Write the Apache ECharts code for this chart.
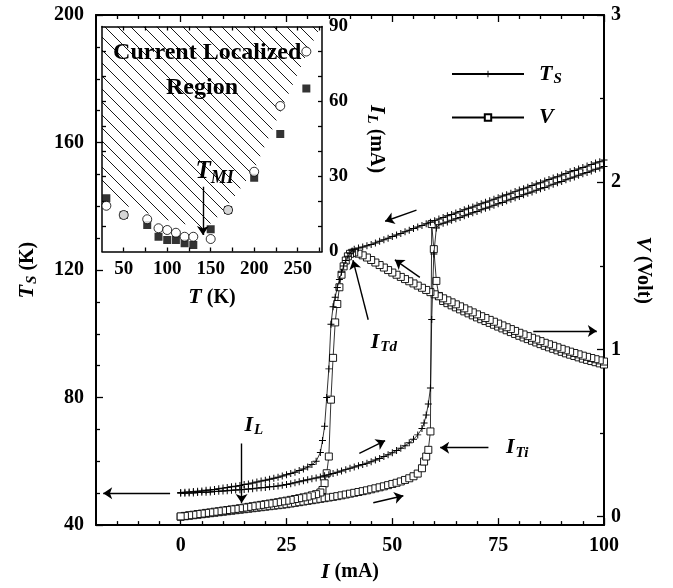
<!DOCTYPE html>
<html><head><meta charset="utf-8">
<script src="https://cdn.jsdelivr.net/npm/echarts@6/dist/echarts.min.js"></script>
<style>html,body{margin:0;padding:0;background:#fff}#c{width:673px;height:588px}</style>
</head><body><div id="c"></div>
<script>
// ---------- main plot data: current sweep up (I increasing) ----------
const iUp = [0,1,2,3,4,5,6,7,8,9,10,11,12,13,14,15,16,17,18,19,20,21,22,23,24,25,26,27,28,29,30,31,32,33,34,35,36,37,38,39,40,41,42,43,44,45,46,47,48,49,50,51,52,53,54,55,56,
  57,57.5,58,58.5,59,59.3,59.8,60.4,
  61,62,63,64,65,66,67,68,69,70,71,72,73,74,75,76,77,78,79,80,81,82,83,84,85,86,87,88,89,90,91,92,93,94,95,96,97,98,99,100];
const tsUp = [50.0,50.0,50.1,50.1,50.2,50.3,50.3,50.4,50.5,50.6,
  50.7,50.8,50.9,51.0,51.1,51.2,51.3,51.4,51.6,51.7,
  51.8,52.0,52.1,52.3,52.5,52.7,53.0,53.3,53.6,53.9,
  54.2,54.5,54.8,55.1,55.5,55.8,56.2,56.6,57.0,57.4,
  57.8,58.2,58.6,59.0,59.4,59.9,60.4,60.9,61.5,62.1,
  62.7,63.4,64.1,64.9,65.8,66.9,68.3,
  70.3,72.0,74.5,78.0,83.0,104.5,125.0,133.2,
  134.2,134.7,135.1,135.6,136.1,136.5,137.0,137.5,138.0,138.4,
  138.9,139.4,139.8,140.3,140.8,141.2,141.7,142.2,142.7,143.1,
  143.6,144.1,144.5,145.0,145.5,145.9,146.4,146.9,147.4,147.8,
  148.3,148.8,149.2,149.7,150.2,150.6,151.1,151.6,152.0,152.5];
const vUp = [0.000,0.003,0.006,0.009,0.012,0.015,0.018,0.021,0.024,0.027,
  0.030,0.033,0.036,0.039,0.042,0.045,0.048,0.051,0.054,0.057,
  0.060,0.063,0.066,0.069,0.072,0.075,0.079,0.083,0.087,0.091,
  0.095,0.099,0.103,0.107,0.111,0.115,0.119,0.123,0.128,0.133,
  0.138,0.143,0.148,0.153,0.158,0.164,0.170,0.176,0.182,0.189,
  0.196,0.203,0.211,0.220,0.230,0.242,0.258,
  0.290,0.330,0.360,0.400,0.510,1.750,1.600,1.410,
  1.320,1.290,1.277,1.264,1.252,1.240,1.228,1.216,1.204,1.192,
  1.181,1.170,1.159,1.148,1.137,1.126,1.115,1.104,1.093,1.082,
  1.072,1.062,1.052,1.042,1.032,1.022,1.013,1.004,0.995,0.986,
  0.977,0.969,0.961,0.953,0.945,0.938,0.931,0.924,0.917,0.910];

// ---------- main plot data: current sweep down (I decreasing) ----------
const iDown = [100,99,98,97,96,95,94,93,92,91,90,89,88,87,86,85,84,83,82,81,80,79,78,77,76,75,74,73,72,71,70,69,68,67,66,65,64,63,62,61,60,59,58,57,56,55,54,53,52,51,50,49,48,47,46,45,44,43,42,41,
  40.5,40,39.5,39,38.5,38,37.5,37,36.5,36,35.5,35,34.5,34,33.5,33,
  32,31,30,29,28,27,26,25,24,23,22,21,20,19,18,17,16,15,14,13,12,11,10,9,8,7,6,5,4,3,2,1,0];
const tsDown = [154.5,154.0,153.6,153.1,152.6,152.2,151.7,151.2,150.8,150.3,
  149.8,149.3,148.9,148.4,147.9,147.4,147.0,146.5,146.0,145.5,
  145.1,144.6,144.1,143.6,143.2,142.7,142.2,141.7,141.3,140.8,
  140.3,139.8,139.4,138.9,138.4,137.9,137.4,137.0,136.5,136.0,
  135.5,135.0,134.5,134.0,133.5,133.0,132.5,132.0,131.5,131.0,
  130.5,130.0,129.5,129.0,128.5,128.0,127.6,127.2,126.9,126.5,
  126.0,125.3,124.3,123.0,121.3,119.3,117.0,114.5,111.5,108.5,103.0,89.0,80.0,71.0,66.5,62.8,
  60.0,59.0,58.2,57.6,57.1,56.6,56.2,55.8,55.4,55.0,
  54.7,54.4,54.1,53.8,53.5,53.2,52.9,52.7,52.4,52.2,
  52.0,51.8,51.6,51.4,51.2,51.0,50.9,50.7,50.6,50.5,
  50.4,50.3,50.2];
const vDown = [0.928,0.935,0.942,0.949,0.956,0.963,0.971,0.979,0.987,0.995,
  1.004,1.013,1.022,1.031,1.040,1.050,1.060,1.070,1.080,1.090,
  1.100,1.111,1.122,1.133,1.144,1.155,1.166,1.177,1.188,1.199,
  1.210,1.222,1.234,1.246,1.258,1.270,1.282,1.294,1.306,1.318,
  1.330,1.343,1.356,1.369,1.382,1.395,1.408,1.421,1.434,1.447,
  1.460,1.475,1.490,1.505,1.520,1.535,1.550,1.563,1.573,1.580,
  1.578,1.572,1.557,1.532,1.497,1.447,1.372,1.272,1.162,0.950,0.700,0.360,0.260,0.200,0.160,0.145,
  0.135,0.128,0.121,0.116,0.111,0.106,0.101,0.096,0.092,0.087,
  0.083,0.079,0.075,0.071,0.067,0.063,0.059,0.055,0.051,0.047,
  0.044,0.040,0.037,0.033,0.030,0.026,0.023,0.019,0.016,0.012,
  0.009,0.005,0.002];

// ---------- inset data ----------
const tSquares = [30,50,77,90,100,110,120,130,150,170,200,230,260];
const ilSquares = [21.3,14.6,10.6,5.9,4.6,4.6,3.3,2.6,8.9,16.6,29.5,47.0,65.2];
const tCircles = [30,50,77,90,100,110,120,130,150,170,200,230,260];
const ilCircles = [18.3,14.6,12.9,9.3,8.6,7.5,5.9,5.9,5.0,16.6,31.9,58.2,80.0];
const tBoundary = [25,50,77,100,120,140,153,170,200,231,260,278];
const ilBoundary = [26.6,18.6,15.4,12.6,11.0,9.4,11.8,18.6,32.6,56.6,78.7,91.0];

// ---------- ticks ----------
const xMajor = [0,25,50,75,100];
const xMinor = [-15,-10,-5,5,10,15,20,30,35,40,45,55,60,65,70,80,85,90,95];
const tsMajor = [40,80,120,160,200];
const tsMinor = [50,60,70,90,100,110,130,140,150,170,180,190];
const vMajor = [0,1,2,3];
const vMinor = [0.5,1.5,2.5];
const insetXLabels = [50,100,150,200,250];
const insetXTicks = [50,75,100,125,150,175,200,225,250,275];
const insetYLabels = [0,30,60,90];
const insetYTicks = [10,20,30,40,50,60,70,80];

// ---------- annotations (data coordinates) ----------
const mainArrows = [
  [-2.5,50,-18.3,50],
  [14.4,65.6,14.4,46.9],
  [44.3,104.4,40.7,123.1],
  [55.7,138.8,48.3,135.3],
  [56.5,117.7,50.6,123.2],
  [83.3,100.9,98.3,100.9],
  [72.7,64.3,61.3,64.3],
  [42.2,62.5,48.3,66.5],
  [45.5,47.0,52.6,49.2]
];
const insetArrows = [[141,25.9,141,6.6]];

const FONT = 'Liberation Serif';
const zip = (a,b) => a.map((v,i) => [v,b[i]]);

const R = {
  i:{fontFamily:FONT,fontStyle:'italic',fontWeight:'bold',fontSize:22,color:'#000'},
  s:{fontFamily:FONT,fontStyle:'italic',fontWeight:'bold',fontSize:15,color:'#000',padding:[10,0,0,1]},
  n:{fontFamily:FONT,fontWeight:'bold',fontSize:20,color:'#000'},
  b:{fontFamily:FONT,fontWeight:'bold',fontSize:24,color:'#000'},
  I2:{fontFamily:FONT,fontStyle:'italic',fontWeight:'bold',fontSize:25,color:'#000'},
  s2:{fontFamily:FONT,fontStyle:'italic',fontWeight:'bold',fontSize:18,color:'#000',padding:[12,0,0,0]}
};

const hatch = document.createElement('canvas');
hatch.width = 13; hatch.height = 13;
const hc = hatch.getContext('2d');
hc.strokeStyle = '#000'; hc.lineWidth = 0.9;
hc.beginPath();
hc.moveTo(0,0); hc.lineTo(13,13);
hc.moveTo(-2,11); hc.lineTo(2,15);
hc.moveTo(11,-2); hc.lineTo(15,2);
hc.stroke();

const PLUS = 'path://M4.3,0H5.7V4.3H10V5.7H5.7V10H4.3V5.7H0V4.3H4.3Z';
const lbl = (size) => ({fontFamily:FONT,fontWeight:'bold',fontSize:size,color:'#000'});

function tickAxis(base, ticks, len, line, labels, lw) {
  return Object.assign({
    type:'value', splitLine:{show:false},
    axisLine:{show:!!line, onZero:false, lineStyle:{color:'#000',width:lw||2}},
    axisTick:{show:true, inside:true, length:len, customValues:ticks, lineStyle:{color:'#000',width:1.3}},
    axisLabel:labels ? labels : {show:false}
  }, base);
}

const arrowMark = (arr) => ({
  silent:true, animation:false,
  symbol:['none','arrow'], symbolSize:9,
  label:{show:false},
  lineStyle:{color:'#000',width:1.4,type:'solid'},
  emphasis:{disabled:true},
  data: arr.map(a => [{coord:[a[0],a[1]]},{coord:[a[2],a[3]]}])
});
const textMark = (items) => ({
  silent:true, animation:false, symbol:'circle', symbolSize:0,
  label:{show:true, position:'inside', color:'#000', rich:R},
  emphasis:{disabled:true},
  data: items.map(t => ({coord:[t[0],t[1]], label:{formatter:t[2]}}))
});

const option = {
  animation:false,
  backgroundColor:'#fff',
  grid:[
    {left:96, top:15, width:508, height:514},
    {left:102, top:26.5, width:220, height:225}
  ],
  legend:{
    left:446, top:58, orient:'vertical', itemGap:20, itemWidth:72, itemHeight:8,
    data:['TS','V'],
    formatter: n => n === 'TS' ? '{i|T}{s|S}' : '{i|V}',
    textStyle:{rich:{
      i:{fontFamily:FONT,fontStyle:'italic',fontWeight:'bold',fontSize:22,color:'#000',padding:[0,0,0,10],lineHeight:26},
      s:{fontFamily:FONT,fontStyle:'italic',fontWeight:'bold',fontSize:15,color:'#000',padding:[10,0,0,1]}
    }}
  },
  xAxis:[
    tickAxis({gridIndex:0, position:'bottom', min:-20, max:100,
      name:'{i|I}{n| (mA)}', nameLocation:'middle', nameGap:34, nameTextStyle:{rich:R}},
      xMajor, 7, true, Object.assign({show:true, customValues:xMajor, margin:11}, lbl(20))),
    tickAxis({gridIndex:0, position:'bottom', min:-20, max:100}, xMinor, 4, false),
    tickAxis({gridIndex:0, position:'top', min:-20, max:100}, xMajor, 7, true),
    tickAxis({gridIndex:0, position:'top', min:-20, max:100}, xMinor, 4, false),
    tickAxis({gridIndex:1, position:'bottom', min:25, max:278,
      name:'{i|T}{n| (K)}', nameLocation:'middle', nameGap:35, nameTextStyle:{rich:R}},
      insetXTicks, 4, true, Object.assign({show:true, customValues:insetXLabels, margin:8}, lbl(19)), 1.5),
    tickAxis({gridIndex:1, position:'top', min:25, max:278}, insetXTicks, 4, true, null, 1.5)
  ],
  yAxis:[
    tickAxis({gridIndex:0, position:'left', min:40, max:200,
      name:'{i|T}{s|S}{n| (K)}', nameLocation:'middle', nameGap:56, nameRotate:90, nameTextStyle:{rich:R}},
      tsMajor, 7, true, Object.assign({show:true, customValues:tsMajor, margin:12}, lbl(20))),
    tickAxis({gridIndex:0, position:'left', min:40, max:200}, tsMinor, 4, false),
    tickAxis({gridIndex:0, position:'right', min:-0.05, max:3,
      name:'{i|V}{n| (Volt)}', nameLocation:'middle', nameGap:27, nameRotate:-90, nameTextStyle:{rich:R}},
      vMajor, 7, true, Object.assign({show:true, customValues:vMajor, margin:7}, lbl(20))),
    tickAxis({gridIndex:0, position:'right', min:-0.05, max:3}, vMinor, 4, false),
    tickAxis({gridIndex:1, position:'right', min:0, max:90,
      name:'{i|I}{s|L}{n| (mA)}', nameLocation:'middle', nameGap:42, nameRotate:-90, nameTextStyle:{rich:R}},
      insetYTicks, 4, true, Object.assign({show:true, customValues:insetYLabels, margin:7}, lbl(19)), 1.5),
    tickAxis({gridIndex:1, position:'left', min:0, max:90}, insetYTicks, 4, true, null, 1.5)
  ],
  series:[
    {type:'line', name:'V', xAxisIndex:0, yAxisIndex:2, data:zip(iUp,vUp),
      symbol:'rect', symbolSize:7, itemStyle:{color:'#fff',borderColor:'#000',borderWidth:0.9},
      lineStyle:{color:'#000',width:0.8}, emphasis:{disabled:true}, z:2},
    {type:'line', name:'V', xAxisIndex:0, yAxisIndex:2, data:zip(iDown,vDown),
      symbol:'rect', symbolSize:7, itemStyle:{color:'#fff',borderColor:'#000',borderWidth:0.9},
      lineStyle:{color:'#000',width:0.8}, emphasis:{disabled:true}, z:2},
    {type:'line', name:'TS', xAxisIndex:0, yAxisIndex:0, data:zip(iUp,tsUp),
      symbol:PLUS, symbolSize:7, itemStyle:{color:'#000',borderWidth:0},
      lineStyle:{color:'#000',width:0.8}, emphasis:{disabled:true}, z:3,
      markLine:arrowMark(mainArrows),
      markPoint:textMark([
        [17.3,71.4,'{i|I}{s|L}'],
        [48.0,97.3,'{i|I}{s|Td}'],
        [79.5,64.3,'{i|I}{s|Ti}']
      ])},
    {type:'line', name:'TS', xAxisIndex:0, yAxisIndex:0, data:zip(iDown,tsDown),
      symbol:PLUS, symbolSize:7, itemStyle:{color:'#000',borderWidth:0},
      lineStyle:{color:'#000',width:0.8}, emphasis:{disabled:true}, z:3},
    {type:'line', name:'hatch', xAxisIndex:4, yAxisIndex:4, data:zip(tBoundary,ilBoundary),
      symbol:'none', lineStyle:{width:0,opacity:0}, silent:true,
      areaStyle:{origin:'end', color:{image:hatch, repeat:'repeat'}, opacity:1}, z:1},
    {type:'scatter', name:'sq', xAxisIndex:4, yAxisIndex:4, data:zip(tSquares,ilSquares),
      symbol:'rect', symbolSize:8, itemStyle:{color:'#000'}, emphasis:{disabled:true}, z:3},
    {type:'scatter', name:'ci', xAxisIndex:4, yAxisIndex:4, data:zip(tCircles,ilCircles),
      symbol:'circle', symbolSize:9, itemStyle:{color:'#fff',borderColor:'#000',borderWidth:1},
      emphasis:{disabled:true}, z:4,
      markLine:arrowMark(insetArrows),
      markPoint:textMark([
        [146,79.5,'{b|Current Localized}'],
        [140,65.5,'{b|Region}'],
        [154.6,31.8,'{I2|T}{s2|MI}']
      ])}
  ]
};
const chart = echarts.init(document.getElementById('c'), null, {renderer:'canvas'});
chart.setOption(option);
</script></body></html>
